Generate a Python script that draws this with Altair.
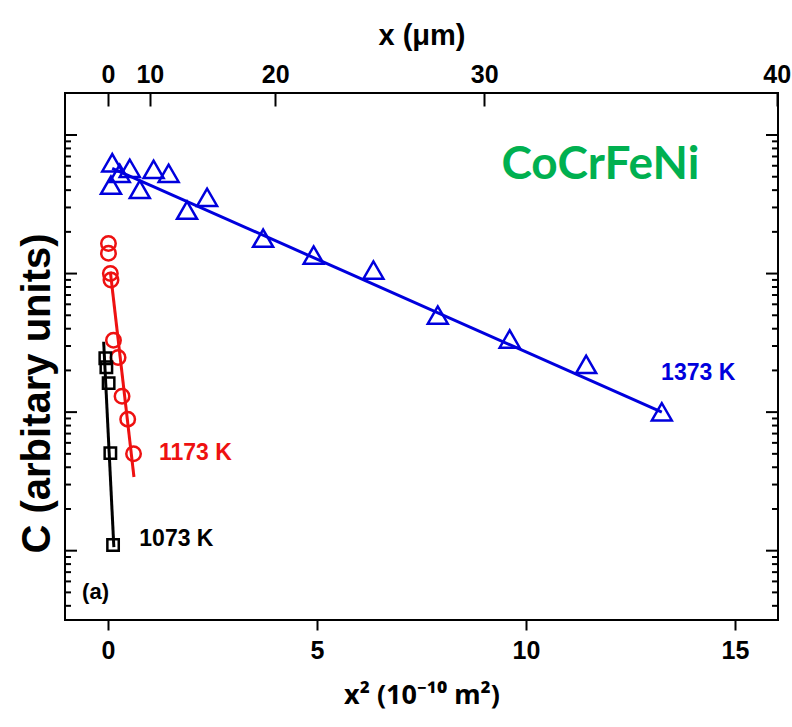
import altair as alt
import pandas as pd

# ---------------- data ----------------
# x^2 in 1e-10 m^2, C in arbitrary units (log scale)
k1373_x2 = [0.10, 0.07, 0.28, 0.52, 0.76, 1.09, 1.45, 1.89, 2.37, 3.71, 4.92, 6.35, 7.89, 9.61, 11.44, 13.25]
k1373_c = [631, 435, 529, 575, 405, 565, 529, 287, 355, 180, 136, 106, 50.2, 33.7, 22.1, 10.05]

k1173_x2 = [0.01, 0.01, 0.055, 0.07, 0.13, 0.24, 0.335, 0.47, 0.61]
k1173_c = [165, 140, 100, 90, 33, 24.8, 13.0, 8.9, 5.0]

k1073_x2 = [-0.065, -0.04, 0.014, 0.055, 0.12]
k1073_c = [24.5, 21.1, 16.2, 5.06, 1.10]

# fitted lines (end points)
fit1373_x2 = [0.10, 13.25]
fit1373_c = [575, 10.0]
fit1173_x2 = [0.055, 0.62]
fit1173_c = [103, 3.4]
fit1073_x2 = [-0.105, 0.139]
fit1073_c = [32.2, 1.06]

# axis ticks
bottom_ticks = [0, 5, 10, 15]
top_ticks_x2 = [0, 1, 4, 9, 16]          # positions of x = 0, 10, 20, 30, 40 um
y_major = [1, 10, 100, 1000]
y_minor = [0.4, 0.5, 0.6, 0.7, 0.8, 0.9,
           2, 3, 4, 5, 6, 7, 8, 9,
           20, 30, 40, 50, 60, 70, 80, 90,
           200, 300, 400, 500, 600, 700, 800, 900]

# annotations
label_text = ["1373 K", "1173 K", "1073 K"]
label_x2 = [14.12, 2.09, 1.635]
label_c = [19.1, 5.06, 1.21]
label_color = ["#0000dd", "#ee1111", "#000000"]

BLUE = "#0000dd"
RED = "#ee1111"
BLACK = "#000000"
GREEN = "#00b050"
FONT = "Liberation Sans"

W, H = 713, 527

xscale = alt.Scale(domain=[-1.03, 16.03], nice=False, zero=False)
yscale = alt.Scale(type="log", domain=[0.316, 2010], nice=False)

x_axis = alt.Axis(values=bottom_ticks, format="d", tickSize=10, tickWidth=2, tickColor=BLACK,
                  domain=False, grid=False, labelFont=FONT, labelFontSize=25, labelFontWeight="bold",
                  labelColor=BLACK, labelPadding=8, title="x² (10⁻¹⁰ m²)", titleFont="Noto Sans",
                  titleFontSize=27, titleFontWeight="bold", titleColor=BLACK, titlePadding=19)
y_axis = alt.Axis(labels=False, ticks=False, domain=False, grid=False, title="C (arbitary units)",
                  titleFont=FONT, titleFontSize=40, titleFontWeight="bold", titleColor=BLACK,
                  titlePadding=8, titleY=300)


def X(f):
    return alt.X(f, type="quantitative", scale=xscale, axis=x_axis)


def Y(f):
    return alt.Y(f, type="quantitative", scale=yscale, axis=y_axis)


def series(xs, cs, name):
    return pd.DataFrame({"x2": xs, "c": cs, "s": name})


d1373 = series(k1373_x2, k1373_c, "1373")
d1173 = series(k1173_x2, k1173_c, "1173")
d1073 = series(k1073_x2, k1073_c, "1073")
f1373 = series(fit1373_x2, fit1373_c, "1373")
f1173 = series(fit1173_x2, fit1173_c, "1173")
f1073 = series(fit1073_x2, fit1073_c, "1073")

layers = []
for df, col in [(f1373, BLUE), (f1173, RED), (f1073, BLACK)]:
    layers.append(alt.Chart(df).mark_line(color=col, strokeWidth=3).encode(x=X("x2"), y=Y("c")))

layers.append(alt.Chart(d1373).mark_point(shape="triangle-up", size=400, filled=False, color=BLUE,
                                          strokeWidth=2.5, opacity=1).encode(x=X("x2"), y=Y("c")))
layers.append(alt.Chart(d1173).mark_point(shape="circle", size=210, filled=False, color=RED,
                                          strokeWidth=2.5, opacity=1).encode(x=X("x2"), y=Y("c")))
layers.append(alt.Chart(d1073).mark_point(shape="square", size=130, filled=False, color=BLACK,
                                          strokeWidth=2.5, opacity=1).encode(x=X("x2"), y=Y("c")))

# inward y ticks on both sides
dmaj = pd.DataFrame({"v": y_major})
dmin = pd.DataFrame({"v": y_minor})
for df, L in [(dmaj, 12), (dmin, 6)]:
    layers.append(alt.Chart(df).mark_rule(color=BLACK, strokeWidth=2).encode(
        y=Y("v"), x=alt.value(0), x2=alt.value(L)))
    layers.append(alt.Chart(df).mark_rule(color=BLACK, strokeWidth=2).encode(
        y=Y("v"), x=alt.value(W), x2=alt.value(W - L)))

# annotations
dlab = pd.DataFrame({"x2": label_x2, "c": label_c, "t": label_text, "col": label_color})
layers.append(alt.Chart(dlab).mark_text(font=FONT, fontSize=23, fontWeight="bold", align="center",
                                        baseline="middle").encode(
    x=X("x2"), y=Y("c"), text="t:N", color=alt.Color("col:N", scale=None)))

dname = pd.DataFrame({"x2": [11.78], "c": [607], "t": ["CoCrFeNi"]})
layers.append(alt.Chart(dname).mark_text(font="Lato", fontSize=46, fontWeight="bold", color=GREEN,
                                         align="center", baseline="middle").encode(
    x=X("x2"), y=Y("c"), text="t:N"))

dpanel = pd.DataFrame({"x2": [-0.30], "c": [0.50], "t": ["(a)"]})
layers.append(alt.Chart(dpanel).mark_text(font=FONT, fontSize=22, fontWeight="bold", color=BLACK,
                                          align="center", baseline="middle").encode(
    x=X("x2"), y=Y("c"), text="t:N"))

main = alt.layer(*layers)

# top axis: x in micrometres (position = x^2)
top_axis = alt.Axis(orient="top", values=top_ticks_x2, labelExpr="format(sqrt(datum.value)*10, 'd')",
                    offset=-13, tickSize=13, tickWidth=2, tickColor=BLACK, domain=False, grid=False,
                    labelFont=FONT, labelFontSize=25, labelFontWeight="bold", labelColor=BLACK,
                    labelPadding=6, title="x (μm)", titleFont=FONT, titleFontSize=29,
                    titleFontWeight="bold", titleColor=BLACK, titlePadding=12)
dtop = pd.DataFrame({"x2": top_ticks_x2})
top = alt.Chart(dtop).mark_rule(opacity=0).encode(
    x=alt.X("x2:Q", scale=xscale, axis=top_axis))

chart = alt.layer(main, top).resolve_axis(x="independent").properties(
    width=W, height=H,
    padding={"left": 65, "top": 93, "right": 14, "bottom": 107},
    autosize=alt.AutoSizeParams(type="none"),
    background="white",
).configure_view(stroke=BLACK, strokeWidth=2)

chart.save("out.html", embed_options={"renderer": "svg", "actions": False})
